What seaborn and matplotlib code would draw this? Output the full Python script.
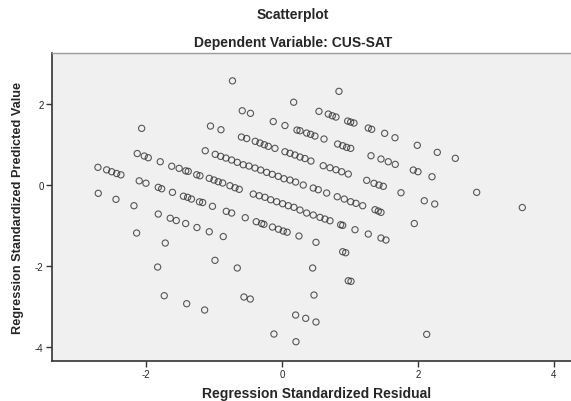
import pandas as pd
import seaborn as sns
import matplotlib.pyplot as plt

# standardized residuals (x) and standardized predicted values (y)
resid = [
    0.838,
    -0.728, 0.172, 0.544, 0.681, 0.740, 0.794, 0.966, 1.010, 1.059, 1.269, 1.319, 1.510, 1.662, 1.990, 2.284, 2.549,
    -0.584, -0.463, -0.128, 0.044, 0.221, 0.265, 0.363, 0.422, 0.485, 0.618, 0.819, 0.893, 0.951, 1.010, 1.309,
    1.456, 1.563, 1.666, 1.931, 2.000, 2.206, 2.863, 3.534,
    -1.051, -0.897, -0.596, -0.519, -0.393, -0.324, -0.260, -0.201, -0.103, 0.044, 0.118, 0.191, 0.265, 0.338,
    0.426, 0.607, 0.706, 0.794, 0.878, 0.975, 1.246, 1.353, 1.426, 1.490, 1.750, 2.093, 2.246,
    -2.063, -1.128, -0.981, -0.901, -0.824, -0.740, -0.657, -0.569, -0.485, -0.397, -0.313, -0.225, -0.143,
    -0.054, 0.029, 0.118, 0.201, 0.313, 0.460, 0.534, 0.657, 0.813, 0.916, 1.010, 1.088, 1.187, 1.368, 1.416,
    1.456, 1.946,
    -2.128, -2.025, -1.966, -1.790, -1.621, -1.512, -1.415, -1.378, -1.254, -1.206, -1.069, -1.000, -0.937,
    -0.872, -0.765, -0.691, -0.628, -0.422, -0.334, -0.250, -0.166, -0.078, 0.010, 0.093, 0.176, 0.265, 0.363,
    0.460, 0.559, 0.632, 0.706, 0.863, 0.893, 1.074, 1.269, 1.456, 1.529,
    -2.706, -2.578, -2.504, -2.431, -2.368, -2.099, -2.000, -1.819, -1.769, -1.610, -1.449, -1.387, -1.331,
    -1.213, -1.166, -1.022, -0.819, -0.740, -0.540, -0.378, -0.299, -0.265, -0.140, -0.051, 0.019, 0.076,
    0.250, 0.500, 0.893, 0.937,
    -2.701, -2.441, -2.176, -1.819, -1.643, -1.554, -1.416, -1.250, -1.069, -0.863,
    -2.137, -1.716, -1.828, -0.985, -0.657, 0.451, 0.975, 1.015, -1.731, -1.401, -1.137, -0.559, -0.466,
    0.471, 0.201, 0.349, 0.500, -0.118, 0.206, 2.128,
]
predicted = [
    2.319,
    2.579, 2.050, 1.824, 1.757, 1.715, 1.683, 1.584, 1.559, 1.535, 1.411, 1.379, 1.280, 1.171, 0.983, 0.809, 0.661,
    1.839, 1.775, 1.572, 1.473, 1.361, 1.344, 1.287, 1.255, 1.213, 1.139, 1.015, 0.973, 0.933, 0.908, 0.725,
    0.644, 0.577, 0.512, 0.371, 0.329, 0.205, -0.181, -0.557,
    1.460, 1.369, 1.188, 1.151, 1.082, 1.040, 0.998, 0.958, 0.908, 0.824, 0.785, 0.743, 0.693, 0.656,
    0.594, 0.478, 0.428, 0.379, 0.329, 0.272, 0.116, 0.042, 0.000, -0.032, -0.191, -0.389, -0.470,
    1.403, 0.849, 0.760, 0.710, 0.668, 0.619, 0.562, 0.502, 0.470, 0.421, 0.371, 0.314, 0.265,
    0.215, 0.156, 0.124, 0.074, 0.000, -0.074, -0.116, -0.198, -0.290, -0.347, -0.413, -0.453, -0.512, -0.611, -0.644,
    -0.676, -0.953,
    0.780, 0.718, 0.676, 0.577, 0.465, 0.413, 0.351, 0.339, 0.255, 0.230, 0.166, 0.124, 0.082,
    0.050, -0.017, -0.067, -0.106, -0.223, -0.265, -0.304, -0.364, -0.413, -0.463, -0.512, -0.552, -0.619, -0.693,
    -0.743, -0.800, -0.842, -0.884, -0.983, -0.998, -1.106, -1.213, -1.312, -1.361,
    0.438, 0.376, 0.329, 0.285, 0.252, 0.104, 0.045, -0.057, -0.092, -0.181, -0.277, -0.304, -0.347,
    -0.416, -0.433, -0.527, -0.651, -0.693, -0.809, -0.908, -0.953, -0.973, -1.040, -1.094, -1.139, -1.168,
    -1.262, -1.418, -1.651, -1.676,
    -0.205, -0.354, -0.512, -0.718, -0.822, -0.879, -0.953, -1.052, -1.156, -1.275,
    -1.188, -1.436, -2.030, -1.864, -2.054, -2.054, -2.369, -2.384, -2.740, -2.938, -3.094, -2.772, -2.822,
    -2.723, -3.218, -3.300, -3.391, -3.688, -3.879, -3.696,
]

df = pd.DataFrame({"resid": resid, "pred": predicted})

sns.set_style("white")
plt.rcParams["font.family"] = ["Liberation Sans", "DejaVu Sans"]
plt.rcParams["axes.unicode_minus"] = False

fig = plt.figure(figsize=(5.71, 4.02), dpi=100)
ax = fig.add_axes([0.091, 0.0995, 0.909, 0.766])
ax.set_facecolor("#f0f0f0")

sns.scatterplot(data=df, x="resid", y="pred", ax=ax, marker="o", s=20,
                facecolor="none", edgecolor="#303030", linewidth=0.8, alpha=0.8)

ax.set_xlim(-3.382, 4.25)
ax.set_ylim(-4.356, 3.267)
ax.set_xticks([-2, 0, 2, 4])
ax.set_yticks([-4, -2, 0, 2])
ax.tick_params(axis="both", direction="out", length=4, width=1, color="#333333",
               labelsize=7, pad=2, left=True, bottom=True)

for side in ["left", "bottom"]:
    ax.spines[side].set_color("#333333")
    ax.spines[side].set_linewidth(1.2)
ax.spines["top"].set_color("#9a9a9a")
ax.spines["top"].set_linewidth(1)
ax.spines["right"].set_visible(False)

ax.set_xlabel("Regression Standardized Residual", fontsize=10, fontweight="bold")
ax.xaxis.label.set_va("baseline")
ax.xaxis.set_label_coords(0.51, -0.117)
ax.set_ylabel("Regression Standardized Predicted Value", fontsize=9.2, fontweight="bold", labelpad=8)

fig.text(0.513, 0.963, "Scatterplot", ha="center", va="center", fontsize=10, fontweight="bold")
fig.text(0.513, 0.893, "Dependent Variable: CUS-SAT", ha="center", va="center",
         fontsize=10, fontweight="bold")

fig.savefig("out.png", dpi=100, facecolor="white")
